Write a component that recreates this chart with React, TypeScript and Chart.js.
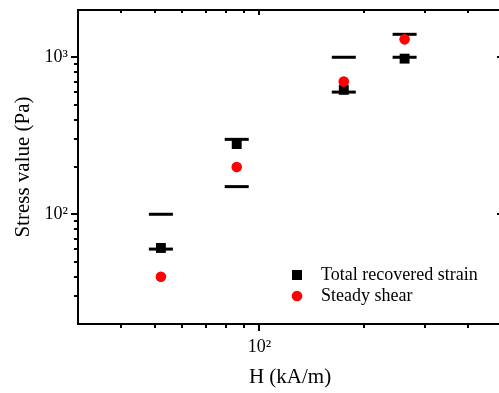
import React, { useEffect, useRef } from 'react';
import { Chart, registerables } from 'chart.js';

Chart.register(...registerables);

// ---- data ----
const H = [52, 86, 175, 262]; // kA/m
const totalRecovered = [61, 280, 620, 980]; // Pa
const upperBound = [100, 300, 1000, 1400]; // Pa (upper cap)
const lowerBound = [60, 150, 600, 1000]; // Pa (lower cap)
const steadyShear = [40, 200, 700, 1300]; // Pa

const xTickLabels: Record<number, string> = { 100: '10²' };
const yTickLabels: Record<number, string> = { 100: '10²', 1000: '10³' };
const xMajorTicks = [100];
const xMinorTicks = [40, 50, 60, 70, 80, 90, 200, 300, 400];
const yMajorTicks = [100, 1000];
const yMinorTicks = [30, 40, 50, 60, 70, 80, 90, 200, 300, 400, 500, 600, 700, 800, 900];

const SERIF = '"Liberation Serif", "Times New Roman", serif';

const errorBarPlugin = {
  id: 'errorCaps',
  beforeDatasetsDraw(chart: any) {
    const { ctx } = chart;
    const xs = chart.scales.x;
    const ys = chart.scales.y;
    ctx.save();
    ctx.strokeStyle = '#000';
    ctx.lineWidth = 3;
    H.forEach((h, i) => {
      const px = xs.getPixelForValue(h);
      [upperBound[i], lowerBound[i]].forEach((v) => {
        const py = ys.getPixelForValue(v);
        ctx.beginPath();
        ctx.moveTo(px - 12, py);
        ctx.lineTo(px + 12, py);
        ctx.stroke();
      });
    });
    ctx.restore();
  },
};

const framePlugin = {
  id: 'frameTicks',
  afterDraw(chart: any) {
    const { ctx, chartArea } = chart;
    const { left, right, top, bottom } = chartArea;
    const xs = chart.scales.x;
    const ys = chart.scales.y;
    ctx.save();
    ctx.strokeStyle = '#000';
    ctx.lineWidth = 2;
    ctx.strokeRect(left, top, right - left, bottom - top);
    const line = (x1: number, y1: number, x2: number, y2: number) => {
      ctx.beginPath();
      ctx.moveTo(x1, y1);
      ctx.lineTo(x2, y2);
      ctx.stroke();
    };
    const drawX = (vals: number[], outLen: number, inLen: number) => {
      vals.forEach((v) => {
        const px = Math.round(xs.getPixelForValue(v));
        line(px, bottom, px, bottom + outLen);
        line(px, top, px, top + inLen);
      });
    };
    const drawY = (vals: number[], outLen: number, inLen: number) => {
      vals.forEach((v) => {
        const py = Math.round(ys.getPixelForValue(v));
        line(left, py, left - outLen, py);
        line(right, py, right - inLen, py);
      });
    };
    drawX(xMajorTicks, 7, 5);
    drawX(xMinorTicks, 4, 3);
    drawY(yMajorTicks, 7, 5);
    drawY(yMinorTicks, 4, 2);

    // legend drawn from dataset styles
    const lx = right - 205;
    const rowsY = [bottom - 49, bottom - 28];
    chart.data.datasets.forEach((ds: any) => {
      const y = rowsY[ds.legendRow];
      ctx.fillStyle = ds.backgroundColor;
      if (ds.pointStyle === 'rect') {
        ctx.fillRect(lx - 5, y - 5, 10, 10);
      } else {
        ctx.beginPath();
        ctx.arc(lx, y, 5.3, 0, Math.PI * 2);
        ctx.fill();
      }
      ctx.fillStyle = '#000';
      ctx.font = `18px ${SERIF}`;
      ctx.textAlign = 'left';
      ctx.textBaseline = 'middle';
      ctx.fillText(ds.label, lx + 24, y);
    });
    ctx.restore();
  },
};

export default function App() {
  const ref = useRef<HTMLCanvasElement>(null);
  useEffect(() => {
    if (!ref.current) return;
    const chart = new Chart(ref.current, {
      type: 'scatter',
      data: {
        datasets: [
          {
            label: 'Steady shear',
            data: H.map((h, i) => ({ x: h, y: steadyShear[i] })),
            pointStyle: 'circle',
            pointRadius: 5.3,
            backgroundColor: '#ff0000',
            borderWidth: 0,
            order: 1,
            legendRow: 1,
          } as any,
          {
            label: 'Total recovered strain',
            data: H.map((h, i) => ({ x: h, y: totalRecovered[i] })),
            pointStyle: 'rect',
            pointRadius: 7,
            backgroundColor: '#000000',
            borderWidth: 0,
            order: 2,
            legendRow: 0,
          } as any,
        ],
      },
      options: {
        animation: false,
        responsive: false,
        maintainAspectRatio: false,
        devicePixelRatio: 1,
        layout: { padding: { left: 0, top: 10, right: 8, bottom: 0 } },
        plugins: { legend: { display: false }, tooltip: { enabled: false } },
        scales: {
          x: {
            type: 'logarithmic',
            min: 30,
            max: 500,
            grid: { display: false, drawTicks: false },
            border: { display: false },
            ticks: {
              autoSkip: false,
              maxRotation: 0,
              padding: 12,
              color: '#000',
              font: { family: SERIF, size: 18 },
              callback: (v: any) => xTickLabels[Number(v)] ?? '',
            },
            title: {
              display: true,
              text: 'H (kA/m)',
              color: '#000',
              font: { family: SERIF, size: 21 },
              padding: { top: 0, bottom: 3 },
            },
            afterFit: (s: any) => {
              s.height = 69;
              s.paddingLeft = 0;
              s.paddingRight = 0;
              s.paddingTop = 0;
              s.paddingBottom = 0;
            },
          },
          y: {
            type: 'logarithmic',
            min: 20,
            max: 2000,
            grid: { display: false, drawTicks: false },
            border: { display: false },
            ticks: {
              autoSkip: false,
              padding: 10,
              color: '#000',
              font: { family: SERIF, size: 18 },
              callback: (v: any) => yTickLabels[Number(v)] ?? '',
            },
            title: {
              display: true,
              text: 'Stress value (Pa)',
              color: '#000',
              font: { family: SERIF, size: 21 },
              padding: { top: 11, bottom: 0 },
            },
            afterFit: (s: any) => {
              s.width = 78;
              s.paddingLeft = 0;
              s.paddingRight = 0;
              s.paddingTop = 0;
              s.paddingBottom = 0;
            },
          },
        },
      },
      plugins: [errorBarPlugin, framePlugin],
    });
    return () => chart.destroy();
  }, []);
  return (
    <div style={{ position: 'fixed', left: 0, top: 0, width: 499, height: 393, overflow: 'hidden', background: '#fff' }}>
      <canvas ref={ref} width={510} height={393} style={{ display: 'block', width: 510, height: 393 }} />
    </div>
  );
}
